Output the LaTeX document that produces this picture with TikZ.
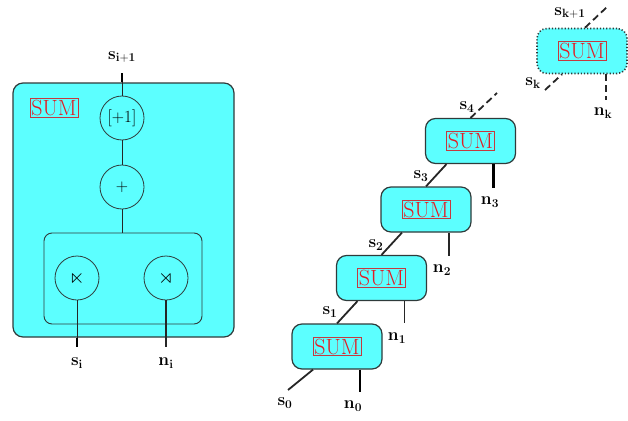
\documentclass[tikz,border=0pt]{standalone}
\usepackage{amsmath,amssymb}
\usepackage{xcolor}
\usepackage{tikz}
\usetikzlibrary{positioning,calc}
\definecolor{SumCyan}{HTML}{5CFFFF}
\definecolor{EdgeGray}{HTML}{2F3B3B}
\definecolor{SumRed}{HTML}{E41B23}
\newcommand{\stv}[1]{$\mathbf{s}_{\mathbf{#1}}$}
\newcommand{\ntv}[1]{$\mathbf{n}_{\mathbf{#1}}$}

\begin{document}
\begin{tikzpicture}[x=1pt,y=-1pt,
  outer/.style={draw=EdgeGray,line width=1.2pt,rounded corners=10pt,fill=SumCyan},
  inner/.style={draw=EdgeGray,line width=0.9pt,rounded corners=8pt},
  op/.style={circle,draw=EdgeGray,line width=0.8pt,minimum size=44pt,inner sep=0pt,font=\fontsize{17}{20}\selectfont},
  sumlbl/.style={draw=SumRed!70!gray,line width=0.8pt,text=SumRed,inner sep=1.5pt,font=\fontsize{22}{24}\selectfont},
  chainbox/.style={outer,minimum width=90pt,minimum height=45pt},
  ghostbox/.style={chainbox,dotted,line width=1.6pt},
  wire/.style={draw=black!85,line width=0.9pt},
  stub/.style={draw=black,line width=2.6pt},
  link/.style={draw=black!85,line width=1.8pt},
  dlink/.style={link,dashed,dash pattern=on 7pt off 4pt},
  lab/.style={font=\fontsize{17}{19}\selectfont\bfseries,inner sep=0pt}
]
\useasboundingbox (0,0) rectangle (628,420);
% expanded cell
\node[outer,minimum width=221pt,minimum height=254pt] (cell) at (123.5,210) {};
\node[sumlbl] (celllbl) at (54,108) {SUM};
\node[op] (inc) at (122,118) {[+1]};
\node[op] (add) at (122,187) {+};
\node[inner,minimum width=158pt,minimum height=91pt] (pair) at (123,278.5) {};
\node[op,font=\fontsize{20}{22}\selectfont] (mulS) at (77,278) {$\ltimes$};
\node[op,font=\fontsize{20}{22}\selectfont] (mulN) at (166,278) {$\rtimes$};
\coordinate (sout) at (122,73);
\coordinate (sin) at (77,347);
\coordinate (nin) at (166,347);
\draw[wire] (inc) -- (add);
\draw[wire] (add.south) -- (add.south |- pair.north);
\draw[wire] (inc.north) -- (inc.north |- cell.north);
\draw[stub] (inc.north |- cell.north) -- (sout);
\draw[wire] (mulS.south) -- (mulS.south |- cell.south);
\draw[stub] (mulS.south |- cell.south) -- (sin);
\draw[wire,line width=1.3pt] (mulN.south) -- (nin);
\node[lab] (soutlab) at (122,57) {\stv{i+1}};
\node[lab] (sinlab) at (77,363) {\stv{i}};
\node[lab] (ninlab) at (166,363) {\ntv{i}};
% chain of cells
\node[chainbox] (sum0) at (337,346.5) {};
\node[sumlbl] (lbl0) at (sum0) {SUM};
\node[chainbox] (sum1) at (381.5,278) {};
\node[sumlbl] (lbl1) at (sum1) {SUM};
\node[chainbox] (sum2) at (426,209.5) {};
\node[sumlbl] (lbl2) at (sum2) {SUM};
\node[chainbox] (sum3) at (470.5,141) {};
\node[sumlbl] (lbl3) at (sum3) {SUM};
\node[ghostbox] (sumk) at (582,51) {};
\node[sumlbl] (lblk) at (sumk) {SUM};
\coordinate (s0) at (288,390);
\coordinate (s4) at (497,93);
\coordinate (sk) at (545,90);
\coordinate (sk1) at (607,7);
\coordinate (n0) at (360,392);
\coordinate (n1) at (404.5,323);
\coordinate (n2) at (449,256);
\coordinate (n3) at (493.5,188);
\coordinate (nk) at (606,100);
\draw[link] (s0) -- ([xshift=-24pt]sum0.south);
\draw[link] (sum0.north) -- ([xshift=-24pt]sum1.south);
\draw[link] (sum1.north) -- ([xshift=-24pt]sum2.south);
\draw[link] (sum2.north) -- ([xshift=-24pt]sum3.south);
\draw[dlink] (sum3.north) -- (s4);
\draw[dlink] (sk) -- ([xshift=-20pt]sumk.south);
\draw[dlink] ([xshift=3pt]sumk.north) -- (sk1);
\draw[stub] (sum0.south -| n0) -- (n0);
\draw[wire] (sum1.south -| n1) -- (n1);
\draw[link] (sum2.south -| n2) -- (n2);
\draw[stub] (sum3.south -| n3) -- (n3);
\draw[dlink] (sumk.south -| nk) -- (nk);
\node[lab] (s0lab) at (285,403) {\stv{0}};
\node[lab] (n0lab) at (353,406) {\ntv{0}};
\node[lab] (s1lab) at (330,312) {\stv{1}};
\node[lab] (n1lab) at (397,338) {\ntv{1}};
\node[lab] (s2lab) at (376,245) {\stv{2}};
\node[lab] (n2lab) at (442,270) {\ntv{2}};
\node[lab] (s3lab) at (421,176) {\stv{3}};
\node[lab] (n3lab) at (490,202) {\ntv{3}};
\node[lab] (s4lab) at (467,107) {\stv{4}};
\node[lab] (sklab) at (533,83) {\stv{k}};
\node[lab] (nklab) at (603,113) {\ntv{k}};
\node[lab] (sk1lab) at (570,13) {\stv{k+1}};
\end{tikzpicture}
\end{document}
